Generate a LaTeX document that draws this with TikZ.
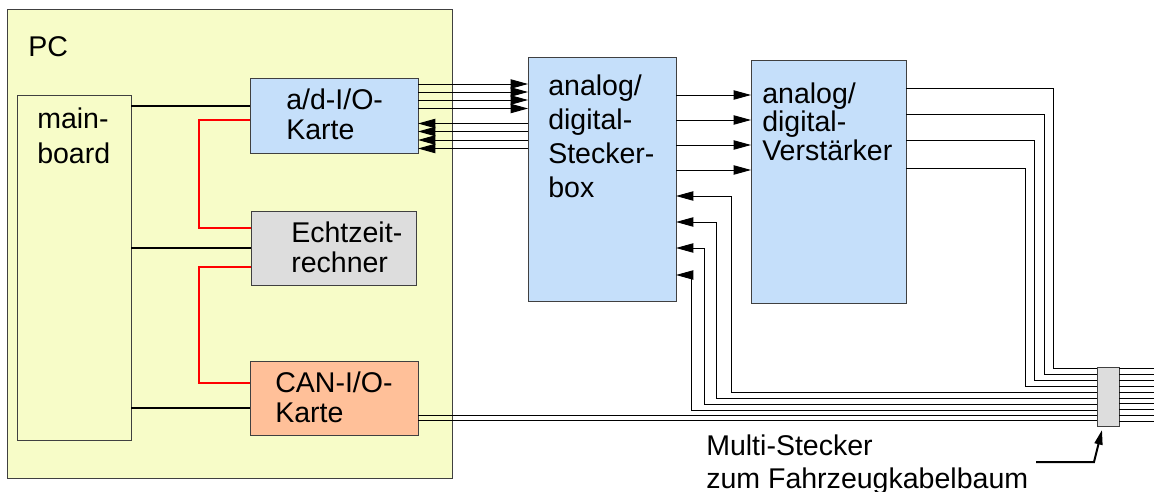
\documentclass[tikz,border=0pt]{standalone}
\usepackage{fontspec}
\setmainfont{Liberation Sans}
\usetikzlibrary{arrows.meta}
\definecolor{pcyellow}{RGB}{247,252,200}
\definecolor{cardblue}{RGB}{197,223,250}
\definecolor{rtcgray}{RGB}{221,221,221}
\definecolor{canorange}{RGB}{255,192,153}
\newcommand{\lblfont}{\fontsize{21.4}{22.5}\selectfont}

\begin{document}
\begin{tikzpicture}[x=0.75pt,y=-0.75pt,
  box/.style n args={2}{draw=black!75, line width=0.75pt, inner sep=0pt, outer sep=0pt,
    minimum width=#1*0.75pt, minimum height=#2*0.75pt},
  lbl/.style={font=\lblfont, align=left, anchor=base west, inner sep=0pt},
  wire/.style={line width=0.7pt},
  sig/.style={wire, -{Triangle[length=13pt,width=7pt]}},
  bus/.style={line width=2pt},
  link/.style={red, line width=1.2pt}]
\useasboundingbox (0,0) rectangle (1154,492);
% boxes
\node[box={445}{468}, fill=pcyellow] (pc) at (229.5,244) {};
\node[box={114}{344}, fill=pcyellow] (mb) at (74,268) {};
\node[box={168}{74}, fill=cardblue] (adcard) at (334,116) {};
\node[box={165}{74}, fill=rtcgray] (rtc) at (333.5,248) {};
\node[box={168}{74}, fill=canorange] (cancard) at (334,398) {};
\node[box={148}{244}, fill=cardblue] (sbox) at (602,179.5) {};
\node[box={155}{242}, fill=cardblue] (verst) at (828.5,182) {};
\node[box={22}{59}, fill=rtcgray] (plug) at (1108,396.5) {};
\coordinate (rim) at (1154,0);
% texts (anchored at the last line)
\node[lbl] (pctxt) at (28,57) {PC};
\node[lbl] (mbtxt) at (37,163) {main-\\[3.75pt]board};
\node[lbl] (adtxt) at (286,139) {a/d-I/O-\\Karte};
\node[lbl] (rtctxt) at (291,272) {Echtzeit-\\rechner};
\node[lbl] (cantxt) at (275,422) {CAN-I/O-\\Karte};
\node[lbl] (sboxtxt) at (548,197) {analog/\\[2.8pt]digital-\\[2.8pt]Stecker-\\[2.8pt]box};
\node[lbl] (versttxt) at (762,161) {analog/\\[-0.75pt]digital-\\[-0.75pt]Verst\"arker};
\node[lbl] (mstxt) at (706,488) {Multi-Stecker\\[2pt]zum Fahrzeugkabelbaum};
% mainboard links
\foreach \card/\yy in {adcard/106,rtc/248,cancard/408}
  \draw[bus] (mb.east |- 0,\yy) -- (\card.west |- 0,\yy);
\draw[link] (adcard.west |- 0,120) -| (199,228) -- (rtc.west |- 0,228);
\draw[link] (rtc.west |- 0,267) -| (199,383) -- (cancard.west |- 0,383);
% a/d card <-> Steckerbox
\foreach \yy in {84,92,100,108.5}
  \draw[sig] (adcard.east |- 0,\yy) -- (sbox.west |- 0,\yy);
\foreach \yy in {123.5,131.5,140,148.5}
  \draw[sig] (sbox.west |- 0,\yy) -- (adcard.east |- 0,\yy);
% Steckerbox -> Verstaerker
\foreach \yy in {95,120,145,170}
  \draw[sig] (sbox.east |- 0,\yy) -- (verst.west |- 0,\yy);
% Verstaerker -> Multi-Stecker
\foreach \ya/\xv/\yb in {88/1053/368.5,114/1044/374.5,140.5/1034/380.5,168/1025/386.5}
  \draw[wire] (verst.east |- 0,\ya) -- (\xv,\ya) |- (plug.west |- 0,\yb);
% Multi-Stecker -> Steckerbox
\foreach \ya/\xv/\yb in {196/731/392.5,222/716/398.5,248/704/404.5,275/691/410.5}
  \draw[sig] (plug.west |- 0,\yb) -| (\xv,\ya) -- (sbox.east |- 0,\ya);
% CAN card -> Multi-Stecker
\foreach \yy in {415.5,420.5}
  \draw[wire] (cancard.east |- 0,\yy) -- (plug.west |- 0,\yy);
% harness
\foreach \i in {0,...,9}
  \draw[wire] (plug.east |- 0,368.5+5.9*\i) -- (rim |- 0,368.5+5.9*\i);
% label arrow
\coordinate (msend) at (1036,462);
\coordinate (plugtip) at (1102,430);
\draw[line width=1.5pt, -{Triangle[length=11pt,width=6pt]}] (msend) -- ++(58,0) -- (plugtip);
\end{tikzpicture}
\end{document}
